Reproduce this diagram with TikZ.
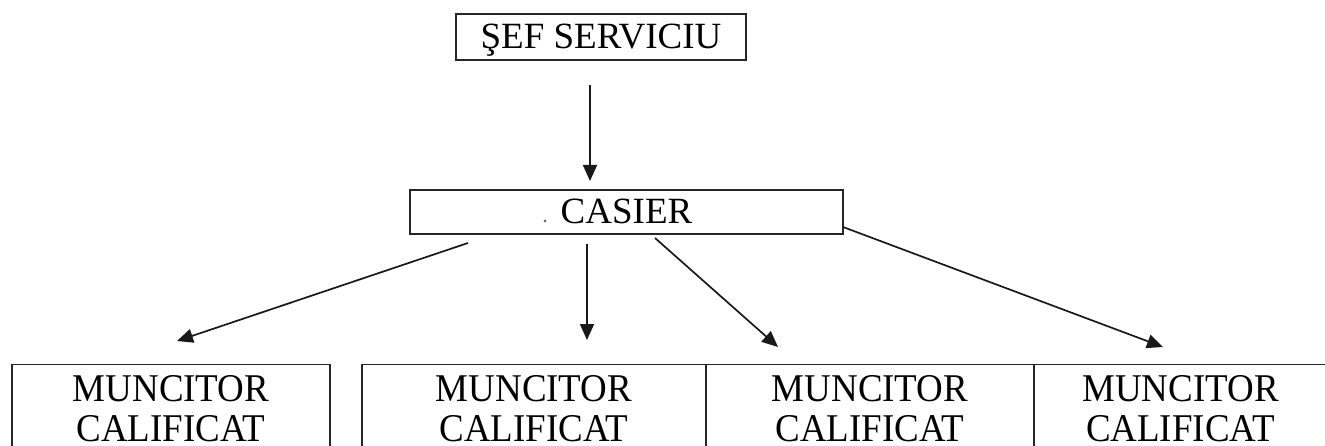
\documentclass[tikz,border=0pt]{standalone}
\usepackage{fontspec}
\setmainfont{Liberation Serif}
\newfontfamily\talltimes{Liberation Serif}[FakeStretch=0.94]
\usetikzlibrary{arrows.meta}
\begin{document}
\begin{tikzpicture}[x=1pt,y=-1pt,
  box/.style={draw=black!85, line width=1.2pt, inner sep=0pt,
    font=\fontsize{37}{45}\selectfont, text height=24pt, text depth=0pt},
  wbox/.style={draw=black!85, line width=1.2pt, anchor=north, align=center,
    font=\talltimes\fontsize{39.3}{40}\selectfont, inner xsep=0pt, inner ysep=10.5pt},
  arr/.style={line width=1.7pt, draw=black!90, -{Triangle[length=16pt,width=14pt]}}]
\clip (0,0) rectangle (1325,446);
\fill[white] (0,0) rectangle (1325,446);
\node[box, minimum width=290pt, minimum height=46pt] (sef) at (601,37) {ŞEF SERVICIU};
\node[box, minimum width=433pt, minimum height=44pt] (casier) at (626.5,212) {CASIER};
\node[anchor=base, inner sep=0pt, text=black!60, font=\fontsize{22}{22}\selectfont] (dot) at (545,223) {.};
\node[wbox, minimum width=318pt] (m1) at (171,364) {MUNCITOR\\CALIFICAT};
\node[wbox, minimum width=344pt] (m2) at (534,364) {MUNCITOR\\CALIFICAT};
\node[wbox, minimum width=328pt] (m3) at (870,364) {MUNCITOR\\CALIFICAT};
\node[wbox, minimum width=293pt] (m4) at (1180.5,364) {MUNCITOR\\CALIFICAT};
\coordinate (s0) at (590,85);   \coordinate (e0) at (590,181);
\coordinate (s1) at (468,243);  \coordinate (e1) at (177,341);
\coordinate (s2) at (587,244);  \coordinate (e2) at (587,340);
\coordinate (s3) at (655,238);  \coordinate (e3) at (778,347);
\coordinate (s4) at (843,227);  \coordinate (e4) at (1163,347);
\draw[arr] (s0) -- (e0);
\draw[arr] (s1) -- (e1);
\draw[arr] (s2) -- (e2);
\draw[arr] (s3) -- (e3);
\draw[arr] (s4) -- (e4);
\end{tikzpicture}
\end{document}
